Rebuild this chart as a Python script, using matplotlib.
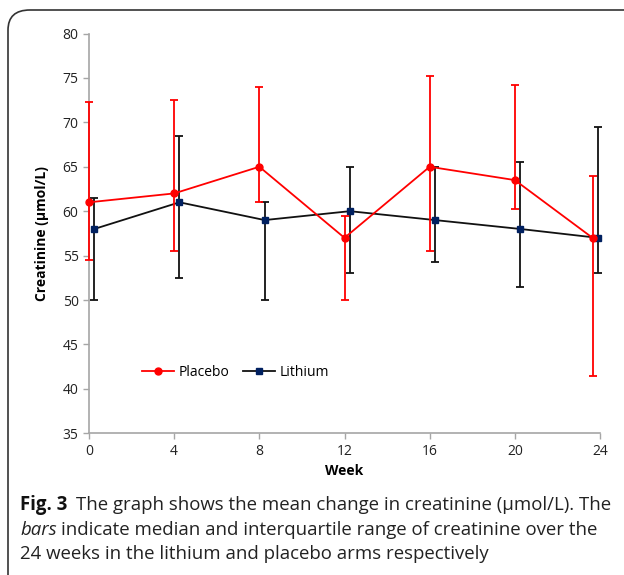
import matplotlib
matplotlib.use("Agg")
import matplotlib.pyplot as plt
from matplotlib.patches import FancyBboxPatch
from matplotlib.lines import Line2D

# Data
weeks_placebo = [0, 4, 8, 12, 16, 20, 23.65]
weeks_lithium = [0.25, 4.25, 8.25, 12.25, 16.25, 20.25, 23.9]
placebo = [61, 62, 65, 57, 65, 63.5, 57]
placebo_upper = [72.25, 72.5, 74, 59.5, 75.25, 74.25, 64]
placebo_lower = [54.5, 55.5, 61, 50, 55.5, 60.25, 41.5]
lithium = [58, 61, 59, 60, 59, 58, 57]
lithium_upper = [61.5, 68.5, 61, 65, 65, 65.5, 69.5]
lithium_lower = [50, 52.5, 50, 53, 54.25, 51.5, 53]
xticks = [0, 4, 8, 12, 16, 20, 24]
yticks = [35, 40, 45, 50, 55, 60, 65, 70, 75, 80]

plt.rcParams['font.family'] = ['Open Sans', 'DejaVu Sans']

fig = plt.figure(figsize=(6.24, 5.75), dpi=100)

# border box
box = FancyBboxPatch((8 / 624, -20 / 575), 700 / 624, (575 - 10 + 20) / 575,
                     boxstyle="round,pad=0,rounding_size=0.035",
                     transform=fig.transFigure, facecolor='none',
                     edgecolor='#333333', linewidth=1.2, clip_on=False)
fig.patches.append(box)

ax = fig.add_axes([89 / 624, 1 - 433.3 / 575, 511 / 624, 399.8 / 575])

perr = [[p - l for p, l in zip(placebo, placebo_lower)],
        [u - p for p, u in zip(placebo, placebo_upper)]]
lerr = [[p - l for p, l in zip(lithium, lithium_lower)],
        [u - p for p, u in zip(lithium, lithium_upper)]]

red = '#FF0000'
blk = '#111111'
navy = '#002060'

c1 = ax.errorbar(weeks_placebo, placebo, yerr=perr, color=red, ecolor=red,
                 marker='o', markersize=5, linewidth=1.3, elinewidth=1.3, capsize=3,
                 capthick=1.3, zorder=3)
c2 = ax.errorbar(weeks_lithium, lithium, yerr=lerr, color=blk, ecolor=blk,
                 marker='s', markersize=5, markerfacecolor=navy, markeredgecolor=navy,
                 linewidth=1.3, elinewidth=1.3, capsize=3, capthick=1.3, zorder=2)
for c in (c1, c2):
    for art in c.get_children():
        art.set_clip_on(False)

ax.set_xlim(0, 24)
ax.set_ylim(35, 80)
ax.set_xticks(xticks)
ax.set_yticks(yticks)
for s in ['top', 'right']:
    ax.spines[s].set_visible(False)
for s in ['left', 'bottom']:
    ax.spines[s].set_color('#A6A6A6')
    ax.spines[s].set_linewidth(1.2)
ax.tick_params(axis='both', colors='#A6A6A6', length=4, width=1.0,
               labelcolor='#222222', labelsize=10)
ax.set_xlabel('Week', fontsize=10, fontweight='bold', labelpad=4)
ax.set_ylabel('Creatinine (μmol/L)', fontsize=10, fontweight='bold', labelpad=10)

handles = [Line2D([], [], color=red, marker='o', markersize=5, linewidth=1.3),
           Line2D([], [], color=blk, marker='s', markersize=5, markerfacecolor=navy,
                  markeredgecolor=navy, linewidth=1.3)]
ax.legend(handles, ['Placebo', 'Lithium'], loc='center', bbox_to_anchor=(0.287, 0.153),
          ncol=2, frameon=False, fontsize=10, handlelength=2.3, columnspacing=1.0,
          handletextpad=0.3)

# caption
fs = 13.4
y1, y2, y3 = 1 - 505 / 575, 1 - 530 / 575, 1 - 554 / 575
x0 = 20 / 624
t1 = fig.text(x0, y1, 'Fig. 3', fontsize=fs, fontweight='bold',
              va='center', ha='left', color='#111111')
t2 = fig.text(x0, y2, 'bars', fontsize=fs, style='italic',
              va='center', ha='left', color='#222222')
fig.canvas.draw()
r = fig.canvas.get_renderer()
e1 = t1.get_window_extent(r)
e2 = t2.get_window_extent(r)
fig.text((e1.x1 + 9) / 624, y1,
         'The graph shows the mean change in creatinine (μmol/L). The',
         fontsize=fs, va='center', ha='left', color='#222222')
fig.text((e2.x1 + 4) / 624, y2,
         'indicate median and interquartile range of creatinine over the',
         fontsize=fs, va='center', ha='left', color='#222222')
fig.text(x0, y3, '24 weeks in the lithium and placebo arms respectively',
         fontsize=fs, va='center', ha='left', color='#222222')

fig.savefig('out.png', dpi=100)
